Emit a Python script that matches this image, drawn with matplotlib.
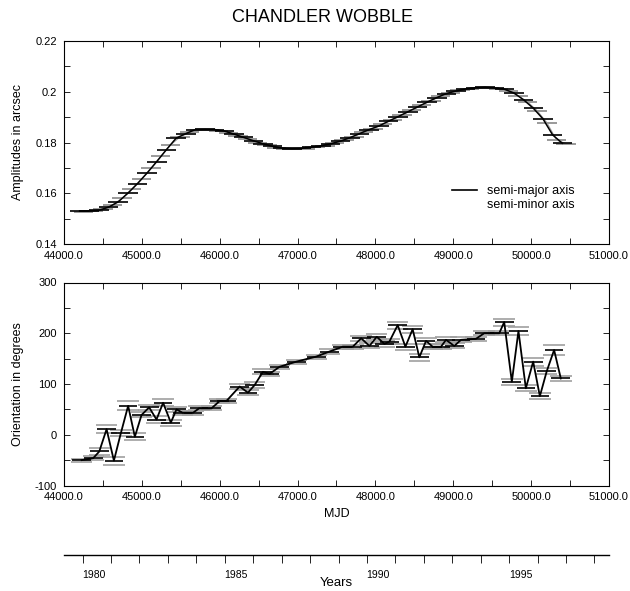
import numpy as np
import matplotlib
matplotlib.use("Agg")
import matplotlib.pyplot as plt
from matplotlib.lines import Line2D
from matplotlib.ticker import MultipleLocator, FuncFormatter, FixedLocator

plt.rcParams['font.family'] = ['Liberation Sans', 'DejaVu Sans']
plt.rcParams['axes.unicode_minus'] = False

# ---------------- data ----------------
title = "CHANDLER WOBBLE"

# top panel: amplitudes (arcsec)
major_mjd = np.arange(44200, 50401, 124)
major_amp = [0.1530, 0.1530, 0.1533, 0.1545, 0.1566, 0.1600, 0.1638, 0.1680, 0.1725, 0.1772,
             0.1817, 0.1835, 0.1851, 0.1852, 0.1851, 0.1845, 0.1833, 0.1820, 0.1807, 0.1795,
             0.1785, 0.1778, 0.1776, 0.1777, 0.1781, 0.1787, 0.1795, 0.1805, 0.1819, 0.1835,
             0.1851, 0.1865, 0.1884, 0.1902, 0.1921, 0.1940, 0.1959, 0.1977, 0.1993, 0.2003,
             0.2011, 0.2016, 0.2018, 0.2015, 0.2010, 0.1995, 0.1968, 0.1935, 0.1893, 0.1830, 0.1797]
minor_mjd = np.arange(44250, 50451, 124)
minor_amp = [0.1528, 0.1530, 0.1537, 0.1553, 0.1580, 0.1616, 0.1655, 0.1698, 0.1745, 0.1790,
             0.1822, 0.1840, 0.1850, 0.1850, 0.1846, 0.1838, 0.1825, 0.1812, 0.1800, 0.1789,
             0.1780, 0.1775, 0.1774, 0.1776, 0.1781, 0.1788, 0.1797, 0.1809, 0.1823, 0.1840,
             0.1855, 0.1871, 0.1890, 0.1908, 0.1927, 0.1946, 0.1965, 0.1982, 0.1995, 0.2005,
             0.2012, 0.2016, 0.2016, 0.2012, 0.2003, 0.1985, 0.1960, 0.1925, 0.1878, 0.1810, 0.1795]
amp_halfspan = 125  # days

# bottom panel: orientation (degrees)
orient_mjd = [44227, 44376, 44453, 44547, 44641, 44730, 44824, 44910, 44996, 45094,
              45188, 45273, 45372, 45445, 45522, 45658, 45735, 45894, 46000, 46086,
              46256, 46363, 46449, 46555, 46641, 46769, 46983, 47240, 47410, 47581,
              47709, 47817, 47923, 48017, 48115, 48179, 48286, 48385, 48478, 48564,
              48650, 48735, 48842, 48906, 49013, 49099, 49291, 49397, 49590, 49654,
              49752, 49837, 49932, 50026, 50112, 50200, 50295, 50381]
orient_deg = [-50, -46, -33, 11, -51, 3, 57, -4, 39, 54,
              30, 63, 24, 50, 43.5, 43.5, 52, 52, 66.5, 66.5,
              95, 83, 98, 124, 120, 134, 144, 154, 164, 173.5,
              173.5, 190, 175, 193, 179, 183.5, 216, 173.5, 208, 152.6,
              185, 173.5, 173.5, 187, 175, 187, 189, 200, 200, 222,
              104.5, 204.5, 91.5, 144, 76, 125, 167, 111]
orient_err = [3, 4, 6, 8, 8, 6, 9, 7, 5, 5,
              6, 7, 6, 5, 4, 4, 4, 4, 4, 4,
              5, 5, 5, 5, 4, 4, 4, 4, 4, 4,
              4, 5, 5, 5, 6, 5, 7, 6, 7, 7,
              6, 5, 5, 5, 5, 5, 4, 4, 4, 7,
              6, 7, 6, 8, 6, 6, 10, 5]
orient_halfspan = 120  # days

# years axis (same span as the MJD axis)
year_ticks = list(range(1980, 1999))
year_labels = [1980, 1985, 1990, 1995]

# ---------------- figure ----------------
W, H = 630, 591
fig = plt.figure(figsize=(W / 100, H / 100), dpi=100)

def fx(px):
    return px / W

def fy(py):
    return 1 - py / H

left, right = 64, 609
ax1 = fig.add_axes([fx(left), fy(244), fx(right - left), fy(41) - fy(244)])
ax2 = fig.add_axes([fx(left), fy(485.5), fx(right - left), fy(282.5) - fy(485.5)])

fig.text(fx(323), fy(18), title, ha='center', va='center', fontsize=13)

# top panel
mj = np.asarray(major_mjd)
mn = np.asarray(minor_mjd)
ax1.hlines(minor_amp, mn - amp_halfspan, mn + amp_halfspan, colors='#9a9a9a', lw=1.4, zorder=2)
ax1.plot(mn, minor_amp, color='#9a9a9a', lw=0.8, zorder=2)
ax1.hlines(major_amp, mj - amp_halfspan, mj + amp_halfspan, colors='black', lw=1.2, zorder=3)
ax1.plot(mj, major_amp, color='black', lw=1.1, zorder=4)

ax1.set_xlim(44000, 51000)
ax1.set_ylim(0.14, 0.22)
ax1.xaxis.set_major_locator(MultipleLocator(1000))
ax1.xaxis.set_minor_locator(MultipleLocator(500))
ax1.yaxis.set_major_locator(MultipleLocator(0.02))
ax1.yaxis.set_minor_locator(MultipleLocator(0.01))
ax1.xaxis.set_major_formatter(FuncFormatter(lambda v, p: f"{v:.1f}"))
ax1.yaxis.set_major_formatter(FuncFormatter(lambda v, p: f"{v:g}"))
ax1.set_ylabel("Amplitudes in arcsec", fontsize=9, labelpad=8)

handles = [Line2D([], [], color='black', lw=1.2),
           Line2D([], [], color='none', lw=1.2)]
ax1.legend(handles, ["semi-major axis", "semi-minor axis"], loc='upper left',
           bbox_to_anchor=(fx(452), fy(185)), bbox_transform=fig.transFigure,
           frameon=False, fontsize=9, handlelength=2.0, handletextpad=0.8,
           labelspacing=0.2, borderpad=0, borderaxespad=0)

# bottom panel
om = np.asarray(orient_mjd, dtype=float)
od = np.asarray(orient_deg, dtype=float)
oe = np.asarray(orient_err, dtype=float)
ax2.hlines(od + oe, om - orient_halfspan * 1.15, om + orient_halfspan * 1.15, colors='#a0a0a0', lw=1.2, zorder=2)
ax2.hlines(od - oe, om - orient_halfspan * 1.15, om + orient_halfspan * 1.15, colors='#a0a0a0', lw=1.2, zorder=2)
ax2.hlines(od, om - orient_halfspan, om + orient_halfspan, colors='black', lw=1.2, zorder=3)
ax2.plot(om, od, color='black', lw=1.3, zorder=4)

ax2.set_xlim(44000, 51000)
ax2.set_ylim(-100, 300)
ax2.xaxis.set_major_locator(MultipleLocator(1000))
ax2.xaxis.set_minor_locator(MultipleLocator(500))
ax2.yaxis.set_major_locator(MultipleLocator(100))
ax2.yaxis.set_minor_locator(MultipleLocator(50))
ax2.xaxis.set_major_formatter(FuncFormatter(lambda v, p: f"{v:.1f}"))
ax2.yaxis.set_major_formatter(FuncFormatter(lambda v, p: f"{v:g}"))
ax2.set_ylabel("Orientation in degrees", fontsize=9, labelpad=8)
ax2.set_xlabel("MJD", fontsize=9, labelpad=4)

for ax in (ax1, ax2):
    for s in ax.spines.values():
        s.set_linewidth(0.8)
    ax.tick_params(which='both', direction='in', top=True, right=True,
                   length=4, width=0.6, labelsize=8, pad=5)

# years axis, aligned with the MJD axis
def mjd_to_year(m):
    return 1980.0 + (m - 44239.0) / 365.25

ax3 = fig.add_axes([fx(left), fy(555), fx(right - left), 0.001])
ax3.set_xlim(mjd_to_year(44000), mjd_to_year(51000))
ax3.set_ylim(0, 1)
for k in ('left', 'right', 'top'):
    ax3.spines[k].set_visible(False)
ax3.spines['bottom'].set_linewidth(1.0)
ax3.set_yticks([])
ax3.xaxis.set_major_locator(FixedLocator(year_ticks))
ax3.xaxis.set_major_formatter(FuncFormatter(lambda v, p: ""))
ax3.xaxis.set_minor_locator(FixedLocator([y + 0.4 for y in year_labels]))
ax3.set_xticklabels([str(y) for y in year_labels], minor=True)
ax3.tick_params(which='major', direction='out', length=6, width=0.6)
ax3.tick_params(which='minor', length=0, labelsize=7.5, pad=11)
fig.text(fx(336), fy(583), "Years", ha='center', va='center', fontsize=9.5)

fig.savefig("out.png", dpi=100)
